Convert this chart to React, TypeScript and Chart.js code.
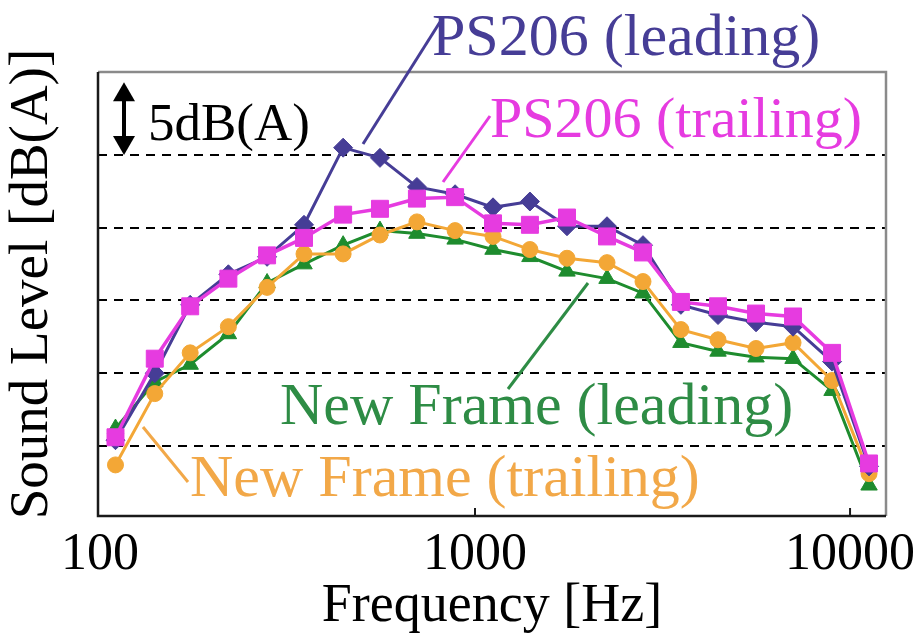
import React, { useEffect, useRef } from "react";
import { Chart, registerables } from "chart.js";

Chart.register(...registerables);

// 1/3-octave band frequencies [Hz] as plotted
const frequencies = [110, 140, 174, 220, 279, 350, 445, 558, 700, 885, 1117, 1401, 1759, 2249, 2805, 3540, 4446, 5615, 7047, 8954, 11237];

// Sound levels [dB(A)] (relative; 5 dB per grid step)
const ps206Leading = [50.4, 55.0, 59.7, 61.8, 63.0, 65.2, 70.5, 69.8, 67.8, 67.3, 66.4, 66.8, 65.1, 65.1, 63.8, 59.7, 59.0, 58.5, 58.2, 55.8, 48.6];
const ps206Trailing = [50.6, 56.0, 59.6, 61.5, 63.1, 64.3, 65.9, 66.3, 67.0, 67.1, 65.3, 65.2, 65.7, 64.4, 63.3, 59.9, 59.6, 59.1, 58.9, 56.4, 48.8];
const newFrameLeading = [51.2, 54.4, 55.6, 57.7, 61.2, 62.5, 63.8, 64.8, 64.6, 64.2, 63.5, 63.0, 62.0, 61.5, 60.5, 57.1, 56.5, 56.1, 56.0, 53.8, 47.3];
const newFrameTrailing = [48.7, 53.6, 56.4, 58.2, 60.9, 63.2, 63.2, 64.5, 65.4, 64.8, 64.4, 63.5, 62.9, 62.6, 61.3, 58.0, 57.3, 56.7, 57.1, 54.5, 48.1];

const seriesNames = ["PS206 (leading)", "PS206 (trailing)", "New Frame (leading)", "New Frame (trailing)"];
const xTickValues = [100, 1000, 10000];
const yGridValues = [50, 55, 60, 65, 70];
const xTitle = "Frequency [Hz]";
const yTitle = "Sound Level [dB(A)]";
const scaleNote = "5dB(A)";

const PURPLE = "#463D96";
const PINK = "#E63BE0";
const GREEN = "#1E8C2E";
const ORANGE = "#F3A736";
const SERIF = '"Liberation Serif", Tinos, "Times New Roman", Times, serif';

const toPoints = (vals: number[]) => vals.map((v, i) => ({ x: frequencies[i], y: v }));

const decorPlugin = {
  id: "decor",
  beforeDatasetsDraw(chart: any) {
    const { ctx, chartArea: a, scales } = chart;
    ctx.save();
    ctx.lineWidth = 2.5;
    ctx.strokeStyle = "#8a8a8a";
    ctx.beginPath();
    ctx.moveTo(a.left, a.top);
    ctx.lineTo(a.right, a.top);
    ctx.lineTo(a.right, a.bottom);
    ctx.stroke();
    ctx.strokeStyle = "#1a1a1a";
    ctx.beginPath();
    ctx.moveTo(a.left, a.top);
    ctx.lineTo(a.left, a.bottom);
    ctx.lineTo(a.right, a.bottom);
    ctx.stroke();
    ctx.lineWidth = 2;
    xTickValues.forEach((v) => {
      const px = scales.x.getPixelForValue(v);
      if (px > a.left + 3 && px < a.right - 3) {
        ctx.beginPath();
        ctx.moveTo(px, a.bottom);
        ctx.lineTo(px, a.bottom - 8);
        ctx.stroke();
      }
    });
    ctx.restore();
  },
  afterDatasetsDraw(chart: any) {
    const { ctx, scales } = chart;
    const y = scales.y;
    ctx.save();
    const ax = 124;
    const yTop = y.getPixelForValue(75);
    const yBot = y.getPixelForValue(70);
    ctx.fillStyle = "#000";
    ctx.strokeStyle = "#000";
    ctx.lineWidth = 4;
    ctx.beginPath();
    ctx.moveTo(ax, yTop + 10);
    ctx.lineTo(ax, yBot - 10);
    ctx.stroke();
    ctx.beginPath();
    ctx.moveTo(ax, yTop);
    ctx.lineTo(ax - 11, yTop + 19);
    ctx.lineTo(ax + 11, yTop + 19);
    ctx.closePath();
    ctx.fill();
    ctx.beginPath();
    ctx.moveTo(ax, yBot);
    ctx.lineTo(ax - 11, yBot - 19);
    ctx.lineTo(ax + 11, yBot - 19);
    ctx.closePath();
    ctx.fill();
    ctx.font = `53px ${SERIF}`;
    ctx.textAlign = "left";
    ctx.textBaseline = "alphabetic";
    ctx.fillText(scaleNote, 148, 140);

    const labels = [
      { text: seriesNames[0], color: PURPLE, x: 432, y: 55, size: 60, line: [363, 144, 440, 22] },
      { text: seriesNames[1], color: PINK, x: 490, y: 137, size: 58, line: [443, 182, 490, 116] },
      { text: seriesNames[2], color: "#2E8C45", x: 280, y: 424, size: 60, line: [588, 283, 508, 389] },
      { text: seriesNames[3], color: "#F2A848", x: 190, y: 496, size: 60, line: [143, 427, 188, 482] },
    ];
    labels.forEach((l) => {
      ctx.strokeStyle = l.color;
      ctx.lineWidth = 3;
      ctx.beginPath();
      ctx.moveTo(l.line[0], l.line[1]);
      ctx.lineTo(l.line[2], l.line[3]);
      ctx.stroke();
      ctx.fillStyle = l.color;
      ctx.font = `${l.size}px ${SERIF}`;
      ctx.fillText(l.text, l.x, l.y);
    });

    ctx.fillStyle = "#000";
    ctx.font = `55px ${SERIF}`;
    ctx.translate(33, 284);
    ctx.rotate(-Math.PI / 2);
    ctx.textAlign = "center";
    ctx.textBaseline = "middle";
    ctx.fillText(yTitle, 0, 0);
    ctx.restore();
  },
};

export default function App() {
  const ref = useRef<HTMLCanvasElement | null>(null);
  useEffect(() => {
    let chart: any = null;
    let cancelled = false;
    const build = () => {
      if (cancelled || !ref.current) return;
      const mk = (label: string, vals: number[], color: string, style: string, radius: number, width: number, order: number) => ({
        label,
        data: toPoints(vals),
        borderColor: color,
        backgroundColor: color,
        pointBackgroundColor: color,
        pointBorderColor: color,
        pointBorderWidth: 1,
        pointStyle: style,
        pointRadius: radius,
        borderWidth: width,
        tension: 0,
        order,
      });
      chart = new Chart(ref.current, {
        type: "line",
        data: {
          datasets: [
            mk(seriesNames[1], ps206Trailing, PINK, "rect", 12, 3.5, 0),
            mk(seriesNames[0], ps206Leading, PURPLE, "rectRot", 9.5, 3, 1),
            mk(seriesNames[3], newFrameTrailing, ORANGE, "circle", 8, 3, 2),
            mk(seriesNames[2], newFrameLeading, GREEN, "triangle", 9.5, 3, 3),
          ],
        },
        options: {
          animation: false,
          responsive: false,
          events: [],
          layout: { padding: { left: 0, top: 72, right: 33, bottom: 0 } },
          plugins: { legend: { display: false }, tooltip: { enabled: false } },
          scales: {
            x: {
              type: "logarithmic",
              min: 98.8,
              max: 12470,
              afterBuildTicks: (s: any) => {
                s.ticks = xTickValues.map((v) => ({ value: v }));
              },
              afterFit: (s: any) => {
                s.height = 121;
              },
              grid: { display: false },
              border: { display: false },
              ticks: {
                autoSkip: false,
                maxRotation: 0,
                padding: 0,
                color: "#000",
                font: { family: SERIF, size: 52 },
                callback: (v: any) => String(v),
              },
              title: {
                display: true,
                text: xTitle,
                color: "#000",
                font: { family: SERIF, size: 54, lineHeight: 1 },
                padding: { top: 0, bottom: 3 },
              },
            },
            y: {
              type: "linear",
              min: 45.19,
              max: 75.7,
              afterBuildTicks: (s: any) => {
                s.ticks = yGridValues.map((v) => ({ value: v }));
              },
              afterFit: (s: any) => {
                s.width = 98;
              },
              ticks: { display: false },
              grid: { color: "#000", lineWidth: 2, drawTicks: false },
              border: { display: false, dash: [9, 7] },
            },
          },
        },
        plugins: [decorPlugin],
      } as any);
    };
    const fonts: any = (document as any).fonts;
    if (fonts && fonts.load) {
      Promise.all([
        fonts.load('52px "Liberation Serif"'),
        fonts.load('52px Tinos'),
      ]).then(build, build);
    } else {
      build();
    }
    return () => {
      cancelled = true;
      if (chart) chart.destroy();
    };
  }, []);
  return (
    <div style={{ position: "fixed", left: 0, top: 0, width: 919, height: 637, background: "#fff" }}>
      <canvas ref={ref} width={919} height={637} />
    </div>
  );
}
